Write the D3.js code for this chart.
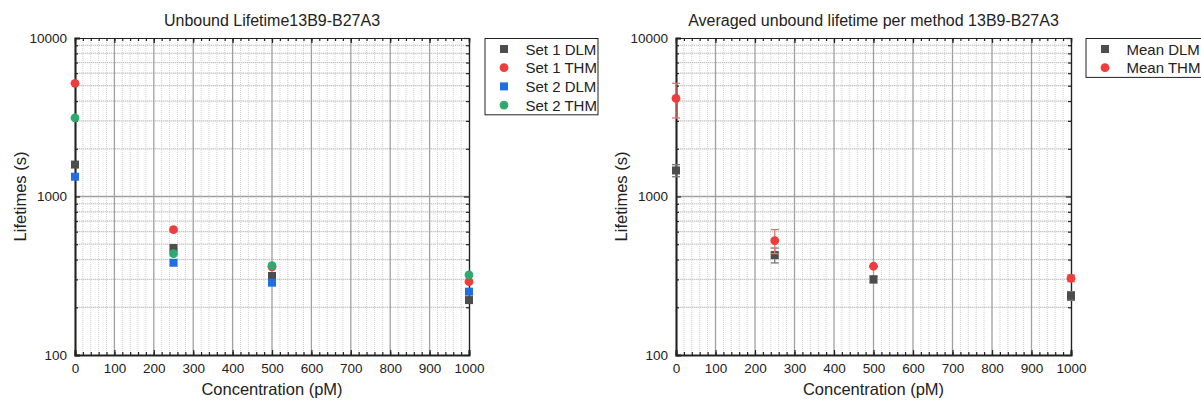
<!DOCTYPE html>
<html>
<head>
<meta charset="utf-8">
<script src="https://cdn.jsdelivr.net/npm/d3@7"></script>
<style>
  body { margin: 0; background: #fff; }
  svg { font-family: "Liberation Sans", Arial, sans-serif; }
</style>
</head>
<body>
<svg id="chart" width="1201" height="401"></svg>
<script>
var concentrations = [0, 250, 500, 1000];

// left panel
var set1DLM = [1590, 473, 315, 222];
var set1THM = [5180, 618, 360, 290];
var set2DLM = [1333, 382, 286, 251];
var set2THM = [3130, 436, 366, 320];

// right panel
var meanDLM = [1460, 427, 300, 236];
var meanDLMErr = [128, 46, 15, 15];
var meanTHM = [4155, 527, 363, 305];
var meanTHMErr = [1025, 91, 3, 15];

var xTicks = [0, 100, 200, 300, 400, 500, 600, 700, 800, 900, 1000];
var yTicks = [100, 1000, 10000];

var colDLM1 = '#4d4d4d', colTHM1 = '#f03c3c', colDLM2 = '#1f6fe0', colTHM2 = '#2eaa6c';

var svg = d3.select('#chart');

function drawPanel(opt) {
    var x = d3.scaleLinear().domain([0, 1000]).range([opt.left, opt.right]);
    var y = d3.scaleLog().domain([100, 10000]).range([355, 38]);
    var g = svg.append('g');

    // minor grid
    var minorX = d3.range(0, 1001, 20).filter(function (v) { return v % 100 !== 0; });
    var minorY = [];
    [100, 1000].forEach(function (d) {
        for (var k = 2; k <= 9; k++) minorY.push(d * k);
    });
    g.selectAll('.mgx').data(minorX).enter().append('line')
        .attr('x1', function (d) { return x(d); }).attr('x2', function (d) { return x(d); })
        .attr('y1', y(10000)).attr('y2', y(100))
        .attr('stroke', '#cfcfcf').attr('stroke-width', 1).attr('stroke-dasharray', '1,1');
    g.selectAll('.mgy').data(minorY).enter().append('line')
        .attr('x1', x(0)).attr('x2', x(1000))
        .attr('y1', function (d) { return y(d); }).attr('y2', function (d) { return y(d); })
        .attr('stroke', '#e6e6e6').attr('stroke-width', 1.2);
    g.selectAll('.mgy2').data(minorY).enter().append('line')
        .attr('x1', x(0)).attr('x2', x(1000))
        .attr('y1', function (d) { return y(d); }).attr('y2', function (d) { return y(d); })
        .attr('stroke', '#c4c4c4').attr('stroke-width', 1).attr('stroke-dasharray', '1,1');

    // major grid
    g.selectAll('.gx').data(xTicks.slice(1, -1)).enter().append('line')
        .attr('x1', function (d) { return x(d); }).attr('x2', function (d) { return x(d); })
        .attr('y1', y(10000)).attr('y2', y(100))
        .attr('stroke', '#a0a0a0').attr('stroke-width', 1.3);
    g.append('line')
        .attr('x1', x(0)).attr('x2', x(1000)).attr('y1', y(1000)).attr('y2', y(1000))
        .attr('stroke', '#a0a0a0').attr('stroke-width', 1.3);

    // axes with inward ticks
    var fmt = function (d) { return d; };
    var minorXTicks = d3.range(0, 1001, 20);

    var bottom = d3.axisBottom(x).tickValues(xTicks).tickFormat(fmt).tickSize(-5).tickPadding(8);
    var gb = g.append('g').attr('transform', 'translate(0,' + y(100) + ')').call(bottom);
    gb.append('g').call(d3.axisBottom(x).tickValues(minorXTicks).tickFormat('').tickSize(-3));
    var top = g.append('g').attr('transform', 'translate(0,' + y(10000) + ')');
    top.call(d3.axisTop(x).tickValues(xTicks).tickFormat('').tickSize(-5));
    top.append('g').call(d3.axisTop(x).tickValues(minorXTicks).tickFormat('').tickSize(-3));

    var gl = g.append('g').attr('transform', 'translate(' + x(0) + ',0)')
        .call(d3.axisLeft(y).tickValues(yTicks).tickFormat(fmt).tickSize(-5).tickPadding(8));
    gl.append('g').call(d3.axisLeft(y).tickValues(minorY).tickFormat('').tickSize(-3));
    var gr = g.append('g').attr('transform', 'translate(' + x(1000) + ',0)')
        .call(d3.axisRight(y).tickValues(yTicks).tickFormat('').tickSize(-5));
    gr.append('g').call(d3.axisRight(y).tickValues(minorY).tickFormat('').tickSize(-3));

    g.selectAll('.domain').attr('stroke', '#222').attr('stroke-width', 1.2);
    g.selectAll('.tick line').attr('stroke', '#222').attr('stroke-width', 1.2);
    gb.select('.domain').attr('stroke-width', 2);
    gl.select('.domain').attr('stroke-width', 2);
    g.selectAll('.tick text').attr('font-size', 13.5).attr('fill', '#222')
        .style('font-family', '"Liberation Sans", Arial, sans-serif');

    // titles and labels
    g.append('text').attr('x', (opt.left + opt.right) / 2).attr('y', 26)
        .attr('text-anchor', 'middle').attr('font-size', 16).attr('fill', '#222').text(opt.title);
    g.append('text').attr('x', (opt.left + opt.right) / 2).attr('y', 395)
        .attr('text-anchor', 'middle').attr('font-size', 16.5).attr('fill', '#222').text('Concentration (pM)');
    g.append('text').attr('transform', 'translate(' + (opt.left - 49) + ',' + ((38 + 355) / 2) + ') rotate(-90)')
        .attr('text-anchor', 'middle').attr('font-size', 16.5).attr('fill', '#222').text('Lifetimes (s)');

    // data
    opt.series.forEach(function (s) {
        var pts = concentrations.map(function (c, i) { return { c: c, v: s.values[i], e: s.err ? s.err[i] : 0 }; });
        if (s.err) {
            var eg = g.append('g').attr('stroke', s.errColor).attr('stroke-width', 1.3);
            pts.forEach(function (p) {
                var yh = y(p.v + p.e), yl = y(Math.max(p.v - p.e, 101));
                eg.append('line').attr('x1', x(p.c)).attr('x2', x(p.c)).attr('y1', yh).attr('y2', yl);
                eg.append('line').attr('x1', x(p.c) - 4).attr('x2', x(p.c) + 4).attr('y1', yh).attr('y2', yh);
                eg.append('line').attr('x1', x(p.c) - 4).attr('x2', x(p.c) + 4).attr('y1', yl).attr('y2', yl);
            });
        }
        pts.forEach(function (p) {
            if (s.shape === 'square') {
                g.append('rect').attr('x', x(p.c) - 4).attr('y', y(p.v) - 4)
                    .attr('width', 8).attr('height', 8).attr('fill', s.color);
            } else {
                g.append('circle').attr('cx', x(p.c)).attr('cy', y(p.v)).attr('r', 4.4).attr('fill', s.color);
            }
        });
    });

    // legend
    var lg = g.append('g');
    var lh = opt.series.length * 18.7 + 1.5;
    lg.append('rect').attr('x', opt.legendX).attr('y', 38.5).attr('width', opt.legendW).attr('height', lh)
        .attr('fill', '#fff').attr('stroke', '#222').attr('stroke-width', 1);
    opt.series.forEach(function (s, i) {
        var cy = 49 + i * 18.7;
        if (s.shape === 'square') {
            lg.append('rect').attr('x', opt.legendX + 15).attr('y', cy - 4).attr('width', 8).attr('height', 8).attr('fill', s.color);
        } else {
            lg.append('circle').attr('cx', opt.legendX + 19).attr('cy', cy).attr('r', 4.4).attr('fill', s.color);
        }
        lg.append('text').attr('x', opt.legendX + 40.5).attr('y', cy + 5.5).attr('font-size', 15)
            .attr('fill', '#222').text(s.name);
    });
}

drawPanel({
    left: 75, right: 469, title: 'Unbound Lifetime13B9-B27A3', legendX: 485, legendW: 113,
    series: [
        { name: 'Set 1 DLM', values: set1DLM, color: colDLM1, shape: 'square' },
        { name: 'Set 1 THM', values: set1THM, color: colTHM1, shape: 'circle' },
        { name: 'Set 2 DLM', values: set2DLM, color: colDLM2, shape: 'square' },
        { name: 'Set 2 THM', values: set2THM, color: colTHM2, shape: 'circle' }
    ]
});

drawPanel({
    left: 676, right: 1071, title: 'Averaged unbound lifetime per method 13B9-B27A3', legendX: 1086, legendW: 130,
    series: [
        { name: 'Mean DLM', values: meanDLM, err: meanDLMErr, errColor: '#777', color: colDLM1, shape: 'square' },
        { name: 'Mean THM', values: meanTHM, err: meanTHMErr, errColor: '#f07070', color: colTHM1, shape: 'circle' }
    ]
});
</script>
</body>
</html>
